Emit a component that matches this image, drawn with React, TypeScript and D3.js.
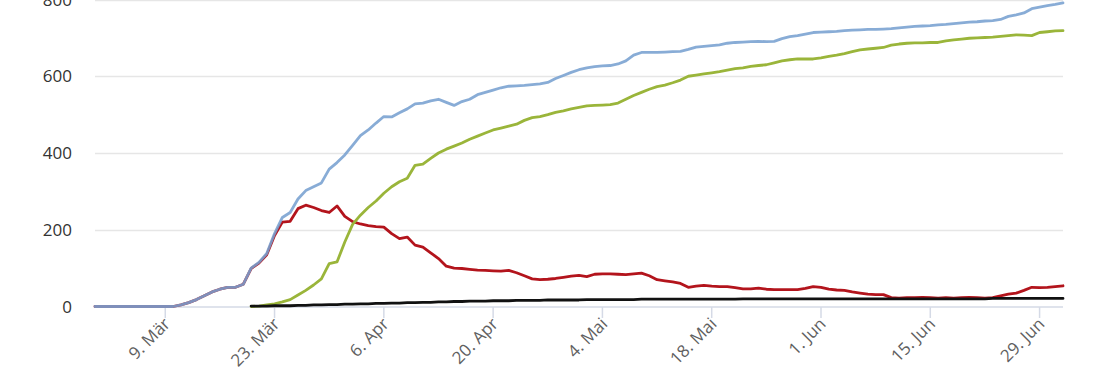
import React from "react";
import * as d3 from "d3";

// Daily values, 29 Feb 2020 .. 2 Jul 2020 (125 days)
const startDate = Date.UTC(2020, 1, 29);

const confirmed = [
  0, 0, 0, 0, 0, 0, 0, 0, 0, 0, 0,
  4, 10, 18, 28, 38, 45, 50, 50, 58, 100,
  115, 138, 190, 232, 245, 280, 302, 312, 322, 358,
  375, 395, 420, 445, 460, 478, 495, 494, 505, 515,
  528, 530, 536, 540, 532, 524, 534, 540, 552, 558,
  564, 570, 574, 575, 576, 578, 580, 584, 594, 602,
  610, 617, 622, 625, 627, 628, 632, 640, 655, 662,
  662, 662, 663, 664, 665, 670, 676, 678, 680, 682,
  686, 688, 689, 690, 691, 690, 691, 698, 703, 706,
  710, 714, 715, 716, 717, 719, 720, 721, 722, 722,
  723, 724, 726, 728, 730, 731, 732, 734, 735, 737,
  739, 741, 742, 744, 745, 748, 756, 760, 765, 776,
  780, 784, 787, 791,
];

const recovered = [
  null, null, null, null, null, null, null, null, null, null,
  null, null, null, null, null, null, null, null, null, null,
  0, 1, 4, 7, 12, 18, 30, 42, 56, 72, 112,
  116, 168, 214, 238, 258, 275, 295, 312, 325, 334,
  368, 371, 386, 400, 410, 418, 426, 436, 444, 452,
  460, 465, 470, 475, 485, 492, 495, 500, 506, 510,
  515, 519, 523, 524, 525, 526, 530, 540, 550, 558,
  566, 573, 577, 583, 590, 600, 603, 606, 609, 612,
  616, 620, 622, 626, 628, 630, 635, 640, 643, 645,
  645, 645, 648, 652, 655, 659, 664, 669, 671, 673,
  675, 681, 684, 686, 687, 687, 688, 688, 692, 695,
  697, 699, 700, 701, 702, 704, 706, 708, 707, 706,
  714, 716, 718, 719,
];

const active = [
  0, 0, 0, 0, 0, 0, 0, 0, 0, 0, 0,
  4, 10, 18, 28, 38, 45, 50, 50, 58, 99,
  113, 135, 185, 220, 222, 255, 264, 258, 250, 245,
  262, 235, 221, 215, 211, 208, 207, 190, 177, 181,
  160, 155, 140, 125, 105, 100, 99, 97, 95, 94,
  93, 92, 94, 88, 80, 72, 70, 71, 73, 76,
  79, 81, 78, 84, 85, 85, 84, 83, 85, 87,
  80, 70, 67, 64, 60, 50, 53, 55, 53, 52,
  52, 49, 46, 46, 48, 45, 44, 44, 44, 44,
  47, 52, 50, 45, 43, 42, 38, 35, 32, 31,
  31, 23, 22, 23, 23, 24, 23, 22, 23, 22,
  23, 24, 23, 22, 23, 28, 32, 35, 42, 50,
  49, 50, 52, 54,
];

const deaths = [
  null, null, null, null, null, null, null, null, null, null,
  null, null, null, null, null, null, null, null, null, null,
  1, 1, 1, 2, 2, 2, 3, 3, 4, 4, 5,
  5, 6, 6, 7, 7, 8, 8, 9, 9, 10,
  10, 11, 11, 12, 12, 13, 13, 14, 14, 14,
  15, 15, 15, 16, 16, 16, 16, 17, 17, 17,
  17, 17, 18, 18, 18, 18, 18, 18, 18, 19,
  19, 19, 19, 19, 19, 19, 19, 19, 19, 19,
  19, 19, 20, 20, 20, 20, 20, 20, 20, 20,
  20, 20, 20, 20, 20, 20, 20, 20, 20, 20,
  20, 20, 20, 20, 20, 20, 20, 20, 20, 20,
  20, 20, 20, 20, 21, 21, 21, 21, 21, 21,
  21, 21, 21, 21,
];

const xTickDates = [
  "2020-03-09", "2020-03-23", "2020-04-06", "2020-04-20", "2020-05-04",
  "2020-05-18", "2020-06-01", "2020-06-15", "2020-06-29",
];
const xTickLabels = [
  "9. Mär", "23. Mär", "6. Apr", "20. Apr", "4. Mai",
  "18. Mai", "1. Jun", "15. Jun", "29. Jun",
];
const yTicks = [0, 200, 400, 600, 800];

const W = 1110;
const H = 370;

export default function App() {
  const dates = confirmed.map((_, i) => d3.utcDay.offset(new Date(startDate), i));
  const x = d3
    .scaleUtc()
    .domain([dates[0], dates[dates.length - 1]])
    .range([95, 1063]);
  const y = d3.scaleLinear().domain([0, 800]).range([306.5, -0.5]);

  const line = d3
    .line<number | null>()
    .defined((v) => v !== null)
    .x((_, i) => x(dates[i]))
    .y((v) => y(v as number));

  const series = [
    { data: active, color: "#b3141c", opacity: 1 },
    { data: confirmed, color: "#77a1d0", opacity: 0.88 },
    { data: recovered, color: "#9ab53a", opacity: 1 },
    { data: deaths, color: "#111111", opacity: 1 },
  ];

  return (
    <svg
      width={W}
      height={H}
      style={{ position: "absolute", left: 0, top: 0, background: "#fff" }}
    >
      <rect x={0} y={0} width={W} height={H} fill="#fff" />
      {yTicks.map((t) =>
        t === 0 ? null : (
          <line
            key={"g" + t}
            x1={95}
            x2={1063}
            y1={Math.round(y(t)) + 0.5}
            y2={Math.round(y(t)) + 0.5}
            stroke="#e6e6e6"
            strokeWidth={1.5}
          />
        )
      )}
      <line x1={95} x2={1063} y1={y(0) + 0.5} y2={y(0) + 0.5} stroke="#d5dae6" strokeWidth={1.5} />
      {xTickDates.map((d, i) => {
        const xx = x(new Date(d + "T00:00:00Z"));
        return (
          <g key={"xt" + i}>
            <line x1={xx} x2={xx} y1={307} y2={318} stroke="#d5dae6" strokeWidth={1.5} />
            <text
              transform={`translate(${xx + 6},${325}) rotate(-45)`}
              textAnchor="end"
              fontFamily="'Open Sans', sans-serif"
              fontSize={17}
              fill="#606060"
            >
              {xTickLabels[i]}
            </text>
          </g>
        );
      })}
      {yTicks.map((t) => (
        <text
          key={"yl" + t}
          x={72}
          y={y(t)}
          dy="0.36em"
          textAnchor="end"
          fontFamily="'Open Sans', sans-serif"
          fontSize={17}
          fill="#333"
        >
          {t}
        </text>
      ))}
      {series.map((s, i) => (
        <path
          key={"s" + i}
          d={line(s.data as (number | null)[]) || ""}
          fill="none"
          stroke={s.color}
          strokeOpacity={s.opacity}
          strokeWidth={2.8}
          strokeLinejoin="round"
          strokeLinecap="round"
        />
      ))}
    </svg>
  );
}
